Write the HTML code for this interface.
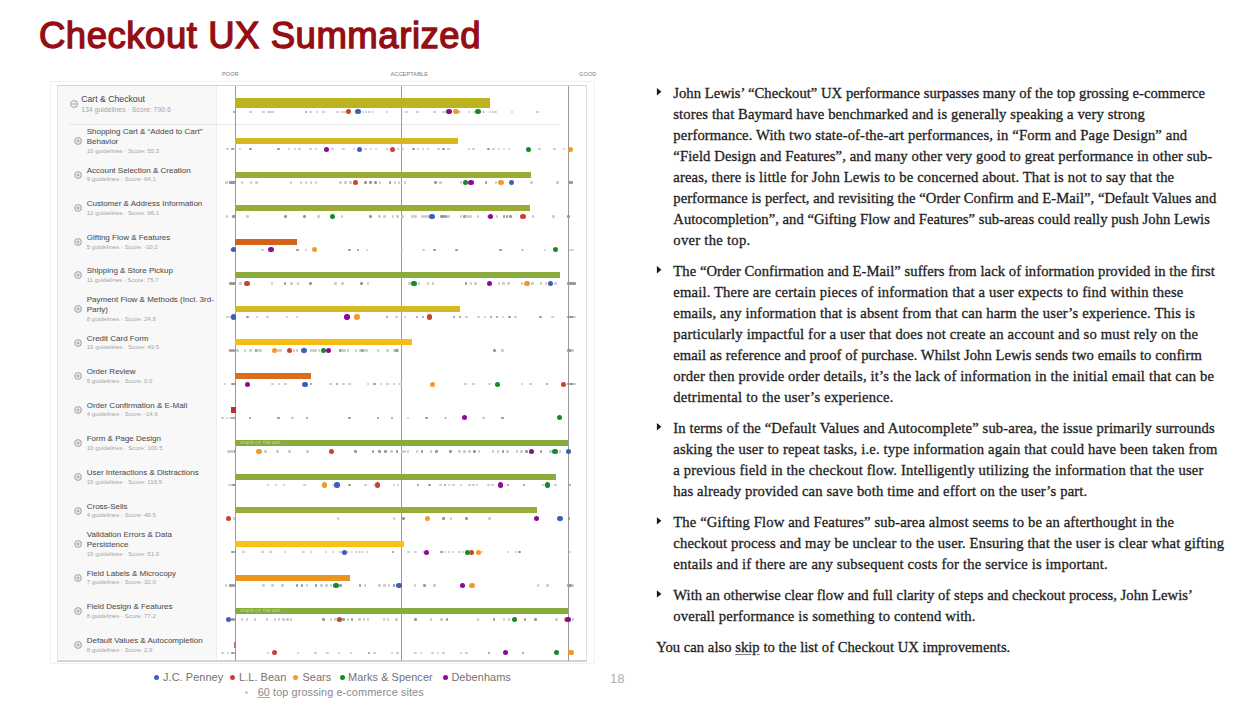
<!DOCTYPE html>
<html><head><meta charset="utf-8"><title>Checkout UX Summarized</title>
<style>
html,body{margin:0;padding:0;background:#fff;}
body{width:1248px;height:714px;overflow:hidden;position:relative;font-family:"Liberation Sans",sans-serif;}
.title{position:absolute;left:38.9px;top:17.8px;font:400 36.5px/1 "Liberation Sans",sans-serif;color:#940e13;-webkit-text-stroke:1.35px #940e13;letter-spacing:0.55px;white-space:nowrap;}
.outer{position:absolute;left:50px;top:81px;width:545px;height:583px;border:1px solid #f1f1f1;box-sizing:border-box;background:#fff;}
.inner{position:absolute;left:57px;top:84.5px;width:530px;height:577px;box-sizing:border-box;border-top:1.5px solid #d7d7d7;border-bottom:2px solid #d3d3d3;border-left:1px solid #e2e2e2;border-right:1.5px solid #dedede;background:#fff;}
.lpanel{position:absolute;left:58px;top:86px;width:158.4px;height:573px;background:#f8f8f8;border-right:1px solid #ececec;}
.vl{position:absolute;top:86px;height:575px;width:1px;background:#9a9a9a;}
.axl{position:absolute;top:70.5px;font-size:5.6px;color:#7c7c7c;letter-spacing:0.1px;}
.sep{position:absolute;left:69px;top:124px;width:491px;height:1px;background:#e6e6e6;}
.bar{position:absolute;}
.sota{position:absolute;left:5px;top:-0.2px;font-size:4.2px;line-height:5px;font-weight:700;color:#b4d08c;letter-spacing:0.1px;white-space:nowrap;}
.cd{position:absolute;width:5.3px;height:5.3px;border-radius:50%;}
.gd{position:absolute;width:2.5px;height:2.5px;border-radius:50%;background:#cacaca;}
.gd.dk{background:#969696;}
.lbl{position:absolute;font-size:8px;line-height:9.8px;color:#4c4c4c;white-space:nowrap;-webkit-text-stroke:0.05px #4c4c4c;}
.lbl .sub{font-size:6.1px;line-height:8.2px;color:#a5a5a5;-webkit-text-stroke:0;}
.lbl.top{font-size:8.7px;}
.lbl.two .sub{margin-top:0.9px;}
.lbl.top .sub{font-size:6.9px;line-height:9.6px;margin-top:0.8px;}
.ic{position:absolute;fill:none;stroke:#a2a2a2;stroke-width:1.1;}
.legend{position:absolute;top:671.3px;font-size:10.9px;line-height:13px;color:#727272;letter-spacing:0.08px;white-space:nowrap;}
.tl u{text-decoration-color:#7a7a7a;text-underline-offset:1.6px;}
.legend u{text-decoration-color:#aaa;text-underline-offset:1.2px;}
.ld{position:absolute;width:5.4px;height:5.4px;border-radius:50%;}
.tl{position:absolute;font:14.65px/17px "Liberation Serif",serif;color:#1e1e1e;-webkit-text-stroke:0.3px #1e1e1e;white-space:nowrap;}
.tri{position:absolute;width:0;height:0;border-top:3.9px solid transparent;border-bottom:3.9px solid transparent;border-left:4.5px solid #1a1a1a;}
</style></head><body>
<div class="title">Checkout UX Summarized</div>
<div class="outer"></div>
<div class="axl" style="left:222px">POOR</div>
<div class="axl" style="left:390.5px">ACCEPTABLE</div>
<div class="axl" style="left:579px">GOOD</div>
<div class="inner"></div>
<div class="lpanel"></div>
<div class="sep"></div>
<div class="vl" style="left:234.8px"></div>
<div class="vl" style="left:401.3px"></div>
<div class="vl" style="left:567.9px"></div>
<div class="bar" style="left:235.2px;top:97.8px;width:255.2px;height:10px;background:#bcb41f"></div>
<i class="gd dk" style="left:232.85px;top:110.55px"></i>
<i class="gd" style="left:249.25px;top:110.55px"></i>
<i class="gd" style="left:262.15px;top:110.55px"></i>
<i class="gd" style="left:267.15px;top:110.55px"></i>
<i class="gd" style="left:269.25px;top:110.55px"></i>
<i class="gd" style="left:271.35px;top:110.55px"></i>
<i class="gd dk" style="left:304.65px;top:110.55px"></i>
<i class="gd" style="left:309.15px;top:110.55px"></i>
<i class="gd" style="left:315.65px;top:110.55px"></i>
<i class="gd" style="left:322.05px;top:110.55px"></i>
<i class="gd" style="left:336.25px;top:110.55px"></i>
<i class="gd" style="left:340.55px;top:110.55px"></i>
<i class="gd" style="left:343.45px;top:110.55px"></i>
<i class="gd" style="left:361.95px;top:110.55px"></i>
<i class="gd" style="left:364.75px;top:110.55px"></i>
<i class="gd" style="left:368.35px;top:110.55px"></i>
<i class="gd" style="left:371.95px;top:110.55px"></i>
<i class="gd" style="left:385.55px;top:110.55px"></i>
<i class="gd" style="left:400.65px;top:110.55px"></i>
<i class="gd" style="left:405.15px;top:110.55px"></i>
<i class="gd" style="left:416.25px;top:110.55px"></i>
<i class="gd" style="left:433.05px;top:110.55px"></i>
<i class="gd" style="left:442.15px;top:110.55px"></i>
<i class="gd" style="left:443.95px;top:110.55px"></i>
<i class="gd" style="left:458.45px;top:110.55px"></i>
<i class="gd" style="left:467.85px;top:110.55px"></i>
<i class="gd" style="left:472.95px;top:110.55px"></i>
<i class="gd" style="left:482.05px;top:110.55px"></i>
<i class="gd" style="left:488.95px;top:110.55px"></i>
<i class="gd" style="left:491.95px;top:110.55px"></i>
<i class="gd" style="left:494.25px;top:110.55px"></i>
<i class="gd" style="left:510.65px;top:110.55px"></i>
<i class="gd" style="left:536.15px;top:110.55px"></i>
<i class="cd" style="left:345.9px;top:109.1px;background:#c4442e"></i>
<i class="cd" style="left:355.4px;top:109.1px;background:#3d5fba"></i>
<i class="cd" style="left:446.4px;top:109.1px;background:#8a0c96"></i>
<i class="cd" style="left:453.4px;top:109.1px;background:#f09a2c"></i>
<i class="cd" style="left:475.4px;top:109.1px;background:#168a24"></i>
<div class="lbl top" style="left:81.2px;top:94.7px"><div>Cart &amp; Checkout</div><div class="sub">134 guidelines · Score: 790.6</div></div>
<svg class="ic" style="left:69.5px;top:100.4px" width="8" height="8" viewBox="0 0 8 8"><circle cx="4" cy="4" r="3.2"/><path d="M2.2 4h3.6"/></svg>
<div class="bar" style="left:235.2px;top:137.9px;width:222.8px;height:6px;background:#d6b81e"></div>
<i class="gd" style="left:226.15px;top:147.90px"></i>
<i class="gd dk" style="left:231.45px;top:147.90px"></i>
<i class="gd" style="left:233.55px;top:147.90px"></i>
<i class="gd" style="left:238.55px;top:147.90px"></i>
<i class="gd dk" style="left:249.25px;top:147.90px"></i>
<i class="gd dk" style="left:277.05px;top:147.90px"></i>
<i class="gd" style="left:287.75px;top:147.90px"></i>
<i class="gd" style="left:293.55px;top:147.90px"></i>
<i class="gd" style="left:298.45px;top:147.90px"></i>
<i class="gd" style="left:309.15px;top:147.90px"></i>
<i class="gd" style="left:314.95px;top:147.90px"></i>
<i class="gd" style="left:331.35px;top:147.90px"></i>
<i class="gd" style="left:342.05px;top:147.90px"></i>
<i class="gd" style="left:352.75px;top:147.90px"></i>
<i class="gd" style="left:364.15px;top:147.90px"></i>
<i class="gd" style="left:369.75px;top:147.90px"></i>
<i class="gd" style="left:374.75px;top:147.90px"></i>
<i class="gd" style="left:385.55px;top:147.90px"></i>
<i class="gd" style="left:396.75px;top:147.90px"></i>
<i class="gd" style="left:401.35px;top:147.90px"></i>
<i class="gd dk" style="left:412.05px;top:147.90px"></i>
<i class="gd" style="left:416.85px;top:147.90px"></i>
<i class="gd" style="left:421.95px;top:147.90px"></i>
<i class="gd" style="left:426.95px;top:147.90px"></i>
<i class="gd" style="left:437.15px;top:147.90px"></i>
<i class="gd dk" style="left:442.15px;top:147.90px"></i>
<i class="gd" style="left:447.35px;top:147.90px"></i>
<i class="gd" style="left:467.55px;top:147.90px"></i>
<i class="gd" style="left:472.15px;top:147.90px"></i>
<i class="gd dk" style="left:487.35px;top:147.90px"></i>
<i class="gd" style="left:492.45px;top:147.90px"></i>
<i class="gd" style="left:497.75px;top:147.90px"></i>
<i class="gd" style="left:502.65px;top:147.90px"></i>
<i class="gd" style="left:507.65px;top:147.90px"></i>
<i class="gd" style="left:538.05px;top:147.90px"></i>
<i class="gd" style="left:553.35px;top:147.90px"></i>
<i class="gd" style="left:562.75px;top:147.90px"></i>
<i class="cd" style="left:324.0px;top:146.5px;background:#8a0c96"></i>
<i class="cd" style="left:356.9px;top:146.5px;background:#3d5fba"></i>
<i class="cd" style="left:389.8px;top:146.5px;background:#c4442e"></i>
<i class="cd" style="left:526.1px;top:146.5px;background:#168a24"></i>
<i class="cd" style="left:568.1px;top:146.5px;background:#f09a2c"></i>
<div class="lbl two" style="left:86.7px;top:126.8px"><div>Shopping Cart &amp; “Added to Cart”</div><div>Behavior</div><div class="sub">10 guidelines · Score: 55.3</div></div>
<svg class="ic" style="left:74.4px;top:136.8px" width="8" height="8" viewBox="0 0 8 8"><circle cx="4" cy="4" r="3.2"/><path d="M2.3 4h3.4M4 2.3v3.4"/></svg>
<div class="bar" style="left:235.2px;top:171.5px;width:296.0px;height:6px;background:#9cab34"></div>
<i class="gd" style="left:225.05px;top:181.48px"></i>
<i class="gd dk" style="left:228.55px;top:181.48px"></i>
<i class="gd dk" style="left:230.45px;top:181.48px"></i>
<i class="gd dk" style="left:232.15px;top:181.48px"></i>
<i class="gd dk" style="left:233.85px;top:181.48px"></i>
<i class="gd" style="left:240.75px;top:181.48px"></i>
<i class="gd" style="left:249.95px;top:181.48px"></i>
<i class="gd" style="left:255.45px;top:181.48px"></i>
<i class="gd" style="left:289.95px;top:181.48px"></i>
<i class="gd" style="left:299.95px;top:181.48px"></i>
<i class="gd" style="left:304.95px;top:181.48px"></i>
<i class="gd" style="left:309.95px;top:181.48px"></i>
<i class="gd" style="left:314.65px;top:181.48px"></i>
<i class="gd" style="left:339.15px;top:181.48px"></i>
<i class="gd" style="left:344.25px;top:181.48px"></i>
<i class="gd" style="left:349.15px;top:181.48px"></i>
<i class="gd dk" style="left:364.15px;top:181.48px"></i>
<i class="gd dk" style="left:369.15px;top:181.48px"></i>
<i class="gd dk" style="left:374.15px;top:181.48px"></i>
<i class="gd" style="left:378.85px;top:181.48px"></i>
<i class="gd dk" style="left:388.75px;top:181.48px"></i>
<i class="gd" style="left:393.65px;top:181.48px"></i>
<i class="gd" style="left:397.65px;top:181.48px"></i>
<i class="gd" style="left:403.65px;top:181.48px"></i>
<i class="gd dk" style="left:434.05px;top:181.48px"></i>
<i class="gd" style="left:439.15px;top:181.48px"></i>
<i class="gd" style="left:459.55px;top:181.48px"></i>
<i class="gd dk" style="left:484.75px;top:181.48px"></i>
<i class="gd" style="left:494.95px;top:181.48px"></i>
<i class="gd" style="left:530.45px;top:181.48px"></i>
<i class="gd" style="left:556.35px;top:181.48px"></i>
<i class="gd dk" style="left:568.55px;top:181.48px"></i>
<i class="gd dk" style="left:570.35px;top:181.48px"></i>
<i class="cd" style="left:352.9px;top:180.1px;background:#c4442e"></i>
<i class="cd" style="left:462.8px;top:180.1px;background:#168a24"></i>
<i class="cd" style="left:468.4px;top:180.1px;background:#8a0c96"></i>
<i class="cd" style="left:498.4px;top:180.1px;background:#f09a2c"></i>
<i class="cd" style="left:508.8px;top:180.1px;background:#3d5fba"></i>
<div class="lbl" style="left:86.7px;top:165.6px"><div>Account Selection &amp; Creation</div><div class="sub">9 guidelines · Score: 64.1</div></div>
<svg class="ic" style="left:74.4px;top:170.6px" width="8" height="8" viewBox="0 0 8 8"><circle cx="4" cy="4" r="3.2"/><path d="M2.3 4h3.4M4 2.3v3.4"/></svg>
<div class="bar" style="left:235.2px;top:205.1px;width:294.5px;height:6px;background:#9cab34"></div>
<i class="gd" style="left:225.75px;top:215.06px"></i>
<i class="gd dk" style="left:232.15px;top:215.06px"></i>
<i class="gd dk" style="left:233.85px;top:215.06px"></i>
<i class="gd" style="left:246.45px;top:215.06px"></i>
<i class="gd dk" style="left:284.25px;top:215.06px"></i>
<i class="gd dk" style="left:303.25px;top:215.06px"></i>
<i class="gd" style="left:317.05px;top:215.06px"></i>
<i class="gd" style="left:340.85px;top:215.06px"></i>
<i class="gd dk" style="left:369.15px;top:215.06px"></i>
<i class="gd" style="left:378.35px;top:215.06px"></i>
<i class="gd" style="left:383.35px;top:215.06px"></i>
<i class="gd" style="left:391.95px;top:215.06px"></i>
<i class="gd" style="left:396.25px;top:215.06px"></i>
<i class="gd" style="left:401.05px;top:215.06px"></i>
<i class="gd" style="left:411.25px;top:215.06px"></i>
<i class="gd" style="left:414.35px;top:215.06px"></i>
<i class="gd" style="left:421.15px;top:215.06px"></i>
<i class="gd" style="left:424.25px;top:215.06px"></i>
<i class="gd" style="left:427.25px;top:215.06px"></i>
<i class="gd dk" style="left:440.15px;top:215.06px"></i>
<i class="gd dk" style="left:442.45px;top:215.06px"></i>
<i class="gd dk" style="left:444.75px;top:215.06px"></i>
<i class="gd" style="left:447.05px;top:215.06px"></i>
<i class="gd" style="left:459.95px;top:215.06px"></i>
<i class="gd dk" style="left:463.05px;top:215.06px"></i>
<i class="gd" style="left:465.35px;top:215.06px"></i>
<i class="gd" style="left:467.55px;top:215.06px"></i>
<i class="gd" style="left:469.85px;top:215.06px"></i>
<i class="gd" style="left:476.75px;top:215.06px"></i>
<i class="gd" style="left:486.65px;top:215.06px"></i>
<i class="gd" style="left:495.75px;top:215.06px"></i>
<i class="gd dk" style="left:502.65px;top:215.06px"></i>
<i class="gd dk" style="left:505.65px;top:215.06px"></i>
<i class="gd dk" style="left:509.45px;top:215.06px"></i>
<i class="gd" style="left:531.95px;top:215.06px"></i>
<i class="gd" style="left:552.05px;top:215.06px"></i>
<i class="gd dk" style="left:567.35px;top:215.06px"></i>
<i class="cd" style="left:329.8px;top:213.7px;background:#168a24"></i>
<i class="cd" style="left:429.4px;top:213.7px;background:#3d5fba"></i>
<i class="cd" style="left:487.8px;top:213.7px;background:#8a0c96"></i>
<i class="cd" style="left:520.4px;top:213.7px;background:#c4442e"></i>
<div class="lbl" style="left:86.7px;top:199.2px"><div>Customer &amp; Address Information</div><div class="sub">12 guidelines · Score: 96.1</div></div>
<svg class="ic" style="left:74.4px;top:204.2px" width="8" height="8" viewBox="0 0 8 8"><circle cx="4" cy="4" r="3.2"/><path d="M2.3 4h3.4M4 2.3v3.4"/></svg>
<div class="bar" style="left:235.2px;top:238.7px;width:62.1px;height:6px;background:#d4621c"></div>
<i class="gd" style="left:230.05px;top:248.65px"></i>
<i class="gd" style="left:261.45px;top:248.65px"></i>
<i class="gd dk" style="left:296.05px;top:248.65px"></i>
<i class="gd" style="left:304.95px;top:248.65px"></i>
<i class="gd dk" style="left:348.15px;top:248.65px"></i>
<i class="gd dk" style="left:356.95px;top:248.65px"></i>
<i class="gd" style="left:365.95px;top:248.65px"></i>
<i class="gd" style="left:400.65px;top:248.65px"></i>
<i class="gd" style="left:422.35px;top:248.65px"></i>
<i class="gd dk" style="left:433.35px;top:248.65px"></i>
<i class="gd dk" style="left:455.45px;top:248.65px"></i>
<i class="gd dk" style="left:499.25px;top:248.65px"></i>
<i class="gd" style="left:521.35px;top:248.65px"></i>
<i class="gd" style="left:543.75px;top:248.65px"></i>
<i class="gd" style="left:568.85px;top:248.65px"></i>
<i class="gd" style="left:571.15px;top:248.65px"></i>
<i class="cd" style="left:231.0px;top:247.2px;background:#3d5fba"></i>
<i class="cd" style="left:268.4px;top:247.2px;background:#8a0c96"></i>
<i class="cd" style="left:312.1px;top:247.2px;background:#f09a2c"></i>
<i class="cd" style="left:552.6px;top:247.2px;background:#168a24"></i>
<div class="lbl" style="left:86.7px;top:232.8px"><div>Gifting Flow &amp; Features</div><div class="sub">5 guidelines · Score: -10.2</div></div>
<svg class="ic" style="left:74.4px;top:237.8px" width="8" height="8" viewBox="0 0 8 8"><circle cx="4" cy="4" r="3.2"/><path d="M2.3 4h3.4M4 2.3v3.4"/></svg>
<div class="bar" style="left:235.2px;top:272.3px;width:324.9px;height:6px;background:#8aab3e"></div>
<i class="gd dk" style="left:228.55px;top:282.23px"></i>
<i class="gd dk" style="left:230.45px;top:282.23px"></i>
<i class="gd dk" style="left:232.15px;top:282.23px"></i>
<i class="gd dk" style="left:233.85px;top:282.23px"></i>
<i class="gd" style="left:239.25px;top:282.23px"></i>
<i class="gd" style="left:270.65px;top:282.23px"></i>
<i class="gd dk" style="left:283.95px;top:282.23px"></i>
<i class="gd" style="left:290.25px;top:282.23px"></i>
<i class="gd" style="left:296.75px;top:282.23px"></i>
<i class="gd dk" style="left:309.45px;top:282.23px"></i>
<i class="gd" style="left:334.45px;top:282.23px"></i>
<i class="gd" style="left:341.25px;top:282.23px"></i>
<i class="gd dk" style="left:360.25px;top:282.23px"></i>
<i class="gd" style="left:366.55px;top:282.23px"></i>
<i class="gd" style="left:408.25px;top:282.23px"></i>
<i class="gd" style="left:417.85px;top:282.23px"></i>
<i class="gd" style="left:426.95px;top:282.23px"></i>
<i class="gd" style="left:431.85px;top:282.23px"></i>
<i class="gd dk" style="left:464.55px;top:282.23px"></i>
<i class="gd" style="left:469.55px;top:282.23px"></i>
<i class="gd" style="left:474.45px;top:282.23px"></i>
<i class="gd" style="left:497.75px;top:282.23px"></i>
<i class="gd" style="left:502.35px;top:282.23px"></i>
<i class="gd" style="left:507.15px;top:282.23px"></i>
<i class="gd" style="left:520.85px;top:282.23px"></i>
<i class="gd" style="left:531.05px;top:282.23px"></i>
<i class="gd" style="left:539.95px;top:282.23px"></i>
<i class="gd" style="left:544.95px;top:282.23px"></i>
<i class="gd" style="left:554.35px;top:282.23px"></i>
<i class="gd dk" style="left:567.35px;top:282.23px"></i>
<i class="gd dk" style="left:569.35px;top:282.23px"></i>
<i class="gd dk" style="left:571.35px;top:282.23px"></i>
<i class="gd dk" style="left:573.45px;top:282.23px"></i>
<i class="cd" style="left:244.3px;top:280.8px;background:#c4442e"></i>
<i class="cd" style="left:411.4px;top:280.8px;background:#168a24"></i>
<i class="cd" style="left:486.6px;top:280.8px;background:#8a0c96"></i>
<i class="cd" style="left:524.4px;top:280.8px;background:#f09a2c"></i>
<i class="cd" style="left:548.1px;top:280.8px;background:#3d5fba"></i>
<div class="lbl" style="left:86.7px;top:266.4px"><div>Shipping &amp; Store Pickup</div><div class="sub">11 guidelines · Score: 75.7</div></div>
<svg class="ic" style="left:74.4px;top:271.4px" width="8" height="8" viewBox="0 0 8 8"><circle cx="4" cy="4" r="3.2"/><path d="M2.3 4h3.4M4 2.3v3.4"/></svg>
<div class="bar" style="left:235.2px;top:305.9px;width:225.1px;height:6px;background:#d6b91e"></div>
<i class="gd" style="left:226.45px;top:315.81px"></i>
<i class="gd" style="left:229.35px;top:315.81px"></i>
<i class="gd dk" style="left:246.15px;top:315.81px"></i>
<i class="gd" style="left:255.75px;top:315.81px"></i>
<i class="gd" style="left:266.15px;top:315.81px"></i>
<i class="gd" style="left:285.65px;top:315.81px"></i>
<i class="gd" style="left:295.65px;top:315.81px"></i>
<i class="gd dk" style="left:385.55px;top:315.81px"></i>
<i class="gd" style="left:395.45px;top:315.81px"></i>
<i class="gd" style="left:403.65px;top:315.81px"></i>
<i class="gd dk" style="left:415.85px;top:315.81px"></i>
<i class="gd dk" style="left:421.95px;top:315.81px"></i>
<i class="gd dk" style="left:452.85px;top:315.81px"></i>
<i class="gd dk" style="left:458.95px;top:315.81px"></i>
<i class="gd" style="left:465.05px;top:315.81px"></i>
<i class="gd" style="left:477.15px;top:315.81px"></i>
<i class="gd" style="left:483.55px;top:315.81px"></i>
<i class="gd dk" style="left:489.65px;top:315.81px"></i>
<i class="gd dk" style="left:495.75px;top:315.81px"></i>
<i class="gd" style="left:501.85px;top:315.81px"></i>
<i class="gd dk" style="left:508.25px;top:315.81px"></i>
<i class="gd" style="left:514.35px;top:315.81px"></i>
<i class="gd dk" style="left:539.15px;top:315.81px"></i>
<i class="gd" style="left:551.35px;top:315.81px"></i>
<i class="gd dk" style="left:567.35px;top:315.81px"></i>
<i class="gd dk" style="left:569.35px;top:315.81px"></i>
<i class="gd dk" style="left:571.35px;top:315.81px"></i>
<i class="gd" style="left:573.45px;top:315.81px"></i>
<i class="cd" style="left:231.0px;top:314.4px;background:#3d5fba"></i>
<i class="cd" style="left:344.4px;top:314.4px;background:#8a0c96"></i>
<i class="cd" style="left:354.4px;top:314.4px;background:#f09a2c"></i>
<i class="cd" style="left:426.9px;top:314.4px;background:#c4442e"></i>
<div class="lbl two" style="left:86.7px;top:294.8px"><div>Payment Flow &amp; Methods (Incl. 3rd-</div><div>Party)</div><div class="sub">8 guidelines · Score: 24.8</div></div>
<svg class="ic" style="left:74.4px;top:304.8px" width="8" height="8" viewBox="0 0 8 8"><circle cx="4" cy="4" r="3.2"/><path d="M2.3 4h3.4M4 2.3v3.4"/></svg>
<div class="bar" style="left:235.2px;top:339.4px;width:177.2px;height:6px;background:#f5bc14"></div>
<i class="gd dk" style="left:228.55px;top:349.39px"></i>
<i class="gd dk" style="left:230.75px;top:349.39px"></i>
<i class="gd dk" style="left:232.85px;top:349.39px"></i>
<i class="gd" style="left:236.45px;top:349.39px"></i>
<i class="gd" style="left:243.55px;top:349.39px"></i>
<i class="gd" style="left:249.25px;top:349.39px"></i>
<i class="gd dk" style="left:254.95px;top:349.39px"></i>
<i class="gd" style="left:257.15px;top:349.39px"></i>
<i class="gd" style="left:259.25px;top:349.39px"></i>
<i class="gd" style="left:277.05px;top:349.39px"></i>
<i class="gd" style="left:279.25px;top:349.39px"></i>
<i class="gd" style="left:292.75px;top:349.39px"></i>
<i class="gd" style="left:295.65px;top:349.39px"></i>
<i class="gd" style="left:309.95px;top:349.39px"></i>
<i class="gd" style="left:312.05px;top:349.39px"></i>
<i class="gd" style="left:314.15px;top:349.39px"></i>
<i class="gd" style="left:317.75px;top:349.39px"></i>
<i class="gd dk" style="left:339.15px;top:349.39px"></i>
<i class="gd" style="left:341.25px;top:349.39px"></i>
<i class="gd" style="left:343.45px;top:349.39px"></i>
<i class="gd" style="left:346.95px;top:349.39px"></i>
<i class="gd" style="left:354.85px;top:349.39px"></i>
<i class="gd" style="left:359.15px;top:349.39px"></i>
<i class="gd dk" style="left:361.25px;top:349.39px"></i>
<i class="gd" style="left:363.45px;top:349.39px"></i>
<i class="gd" style="left:365.55px;top:349.39px"></i>
<i class="gd" style="left:376.95px;top:349.39px"></i>
<i class="gd" style="left:386.25px;top:349.39px"></i>
<i class="gd" style="left:393.35px;top:349.39px"></i>
<i class="gd" style="left:396.25px;top:349.39px"></i>
<i class="gd dk" style="left:395.25px;top:349.39px"></i>
<i class="gd dk" style="left:493.45px;top:349.39px"></i>
<i class="gd" style="left:501.05px;top:349.39px"></i>
<i class="gd dk" style="left:567.35px;top:349.39px"></i>
<i class="gd dk" style="left:569.35px;top:349.39px"></i>
<i class="gd" style="left:571.15px;top:349.39px"></i>
<i class="cd" style="left:271.9px;top:348.0px;background:#f09a2c"></i>
<i class="cd" style="left:286.8px;top:348.0px;background:#c4442e"></i>
<i class="cd" style="left:301.4px;top:348.0px;background:#3d5fba"></i>
<i class="cd" style="left:321.2px;top:348.0px;background:#168a24"></i>
<i class="cd" style="left:326.1px;top:348.0px;background:#8a0c96"></i>
<div class="lbl" style="left:86.7px;top:333.5px"><div>Credit Card Form</div><div class="sub">10 guidelines · Score: 49.5</div></div>
<svg class="ic" style="left:74.4px;top:338.5px" width="8" height="8" viewBox="0 0 8 8"><circle cx="4" cy="4" r="3.2"/><path d="M2.3 4h3.4M4 2.3v3.4"/></svg>
<div class="bar" style="left:235.2px;top:373.0px;width:75.8px;height:6px;background:#d96d1b"></div>
<i class="gd" style="left:223.65px;top:382.98px"></i>
<i class="gd dk" style="left:231.45px;top:382.98px"></i>
<i class="gd dk" style="left:233.35px;top:382.98px"></i>
<i class="gd" style="left:271.35px;top:382.98px"></i>
<i class="gd" style="left:277.85px;top:382.98px"></i>
<i class="gd" style="left:284.25px;top:382.98px"></i>
<i class="gd dk" style="left:309.95px;top:382.98px"></i>
<i class="gd" style="left:329.15px;top:382.98px"></i>
<i class="gd dk" style="left:335.55px;top:382.98px"></i>
<i class="gd" style="left:342.05px;top:382.98px"></i>
<i class="gd" style="left:348.45px;top:382.98px"></i>
<i class="gd" style="left:366.95px;top:382.98px"></i>
<i class="gd dk" style="left:373.35px;top:382.98px"></i>
<i class="gd" style="left:379.85px;top:382.98px"></i>
<i class="gd" style="left:386.25px;top:382.98px"></i>
<i class="gd" style="left:392.65px;top:382.98px"></i>
<i class="gd" style="left:397.65px;top:382.98px"></i>
<i class="gd" style="left:399.85px;top:382.98px"></i>
<i class="gd" style="left:464.05px;top:382.98px"></i>
<i class="gd" style="left:472.15px;top:382.98px"></i>
<i class="gd" style="left:488.45px;top:382.98px"></i>
<i class="gd" style="left:520.85px;top:382.98px"></i>
<i class="gd" style="left:529.25px;top:382.98px"></i>
<i class="gd dk" style="left:545.55px;top:382.98px"></i>
<i class="gd dk" style="left:567.35px;top:382.98px"></i>
<i class="gd dk" style="left:569.35px;top:382.98px"></i>
<i class="gd dk" style="left:571.35px;top:382.98px"></i>
<i class="gd" style="left:573.45px;top:382.98px"></i>
<i class="cd" style="left:244.8px;top:381.6px;background:#8a0c96"></i>
<i class="cd" style="left:302.4px;top:381.6px;background:#3d5fba"></i>
<i class="cd" style="left:429.9px;top:381.6px;background:#f09a2c"></i>
<i class="cd" style="left:495.1px;top:381.6px;background:#168a24"></i>
<i class="cd" style="left:560.6px;top:381.6px;background:#c4442e"></i>
<div class="lbl" style="left:86.7px;top:367.1px"><div>Order Review</div><div class="sub">5 guidelines · Score: 0.0</div></div>
<svg class="ic" style="left:74.4px;top:372.1px" width="8" height="8" viewBox="0 0 8 8"><circle cx="4" cy="4" r="3.2"/><path d="M2.3 4h3.4M4 2.3v3.4"/></svg>
<div class="bar" style="left:230.8px;top:406.6px;width:4.8px;height:6px;background:#c22a2e"></div>
<i class="gd" style="left:221.45px;top:416.56px"></i>
<i class="gd" style="left:225.75px;top:416.56px"></i>
<i class="gd" style="left:228.55px;top:416.56px"></i>
<i class="gd dk" style="left:230.75px;top:416.56px"></i>
<i class="gd dk" style="left:232.85px;top:416.56px"></i>
<i class="gd dk" style="left:248.55px;top:416.56px"></i>
<i class="gd dk" style="left:277.05px;top:416.56px"></i>
<i class="gd" style="left:291.35px;top:416.56px"></i>
<i class="gd dk" style="left:305.65px;top:416.56px"></i>
<i class="gd dk" style="left:348.45px;top:416.56px"></i>
<i class="gd dk" style="left:376.65px;top:416.56px"></i>
<i class="gd dk" style="left:390.95px;top:416.56px"></i>
<i class="gd" style="left:406.65px;top:416.56px"></i>
<i class="gd dk" style="left:425.45px;top:416.56px"></i>
<i class="gd" style="left:444.45px;top:416.56px"></i>
<i class="gd" style="left:482.05px;top:416.56px"></i>
<i class="gd dk" style="left:501.05px;top:416.56px"></i>
<i class="cd" style="left:461.6px;top:415.2px;background:#8a0c96"></i>
<i class="cd" style="left:556.6px;top:415.2px;background:#168a24"></i>
<div class="lbl" style="left:86.7px;top:400.7px"><div>Order Confirmation &amp; E-Mail</div><div class="sub">4 guidelines · Score: -14.6</div></div>
<svg class="ic" style="left:74.4px;top:405.7px" width="8" height="8" viewBox="0 0 8 8"><circle cx="4" cy="4" r="3.2"/><path d="M2.3 4h3.4M4 2.3v3.4"/></svg>
<div class="bar" style="left:235.2px;top:440.2px;width:333.2px;height:6px;background:#88ab3e"><span class="sota">STATE OF THE ART</span></div>
<i class="gd" style="left:227.15px;top:450.14px"></i>
<i class="gd" style="left:229.35px;top:450.14px"></i>
<i class="gd" style="left:231.45px;top:450.14px"></i>
<i class="gd dk" style="left:233.55px;top:450.14px"></i>
<i class="gd" style="left:264.25px;top:450.14px"></i>
<i class="gd" style="left:276.05px;top:450.14px"></i>
<i class="gd" style="left:288.05px;top:450.14px"></i>
<i class="gd" style="left:306.05px;top:450.14px"></i>
<i class="gd dk" style="left:354.15px;top:450.14px"></i>
<i class="gd dk" style="left:371.95px;top:450.14px"></i>
<i class="gd dk" style="left:378.05px;top:450.14px"></i>
<i class="gd dk" style="left:384.05px;top:450.14px"></i>
<i class="gd" style="left:390.25px;top:450.14px"></i>
<i class="gd dk" style="left:395.95px;top:450.14px"></i>
<i class="gd" style="left:401.35px;top:450.14px"></i>
<i class="gd" style="left:403.65px;top:450.14px"></i>
<i class="gd" style="left:406.65px;top:450.14px"></i>
<i class="gd" style="left:415.85px;top:450.14px"></i>
<i class="gd dk" style="left:420.85px;top:450.14px"></i>
<i class="gd" style="left:429.95px;top:450.14px"></i>
<i class="gd dk" style="left:435.15px;top:450.14px"></i>
<i class="gd dk" style="left:449.35px;top:450.14px"></i>
<i class="gd" style="left:458.45px;top:450.14px"></i>
<i class="gd" style="left:463.45px;top:450.14px"></i>
<i class="gd" style="left:468.35px;top:450.14px"></i>
<i class="gd dk" style="left:473.25px;top:450.14px"></i>
<i class="gd" style="left:477.75px;top:450.14px"></i>
<i class="gd" style="left:491.95px;top:450.14px"></i>
<i class="gd" style="left:496.95px;top:450.14px"></i>
<i class="gd dk" style="left:501.55px;top:450.14px"></i>
<i class="gd" style="left:506.45px;top:450.14px"></i>
<i class="gd" style="left:515.55px;top:450.14px"></i>
<i class="gd" style="left:520.45px;top:450.14px"></i>
<i class="gd dk" style="left:525.45px;top:450.14px"></i>
<i class="gd dk" style="left:539.65px;top:450.14px"></i>
<i class="gd" style="left:549.05px;top:450.14px"></i>
<i class="gd" style="left:558.95px;top:450.14px"></i>
<i class="cd" style="left:256.4px;top:448.7px;background:#f09a2c"></i>
<i class="cd" style="left:328.8px;top:448.7px;background:#c4442e"></i>
<i class="cd" style="left:528.6px;top:448.7px;background:#8a0c96"></i>
<i class="cd" style="left:552.4px;top:448.7px;background:#168a24"></i>
<i class="cd" style="left:565.8px;top:448.7px;background:#3d5fba"></i>
<div class="lbl" style="left:86.7px;top:434.3px"><div>Form &amp; Page Design</div><div class="sub">10 guidelines · Score: 100.5</div></div>
<svg class="ic" style="left:74.4px;top:439.3px" width="8" height="8" viewBox="0 0 8 8"><circle cx="4" cy="4" r="3.2"/><path d="M2.3 4h3.4M4 2.3v3.4"/></svg>
<div class="bar" style="left:235.2px;top:473.8px;width:320.4px;height:6px;background:#8aab3e"></div>
<i class="gd" style="left:227.85px;top:483.73px"></i>
<i class="gd" style="left:230.05px;top:483.73px"></i>
<i class="gd dk" style="left:232.15px;top:483.73px"></i>
<i class="gd dk" style="left:233.85px;top:483.73px"></i>
<i class="gd" style="left:266.65px;top:483.73px"></i>
<i class="gd" style="left:274.65px;top:483.73px"></i>
<i class="gd" style="left:282.85px;top:483.73px"></i>
<i class="gd" style="left:303.45px;top:483.73px"></i>
<i class="gd" style="left:331.75px;top:483.73px"></i>
<i class="gd dk" style="left:348.15px;top:483.73px"></i>
<i class="gd" style="left:364.15px;top:483.73px"></i>
<i class="gd" style="left:372.65px;top:483.73px"></i>
<i class="gd" style="left:392.65px;top:483.73px"></i>
<i class="gd" style="left:396.95px;top:483.73px"></i>
<i class="gd dk" style="left:416.55px;top:483.73px"></i>
<i class="gd dk" style="left:428.45px;top:483.73px"></i>
<i class="gd" style="left:439.45px;top:483.73px"></i>
<i class="gd dk" style="left:443.95px;top:483.73px"></i>
<i class="gd" style="left:447.75px;top:483.73px"></i>
<i class="gd" style="left:452.35px;top:483.73px"></i>
<i class="gd" style="left:459.55px;top:483.73px"></i>
<i class="gd" style="left:468.05px;top:483.73px"></i>
<i class="gd" style="left:472.15px;top:483.73px"></i>
<i class="gd" style="left:475.95px;top:483.73px"></i>
<i class="gd" style="left:487.35px;top:483.73px"></i>
<i class="gd" style="left:491.15px;top:483.73px"></i>
<i class="gd dk" style="left:506.85px;top:483.73px"></i>
<i class="gd dk" style="left:522.85px;top:483.73px"></i>
<i class="gd" style="left:542.15px;top:483.73px"></i>
<i class="gd" style="left:554.35px;top:483.73px"></i>
<i class="gd dk" style="left:568.55px;top:483.73px"></i>
<i class="cd" style="left:322.1px;top:482.3px;background:#f09a2c"></i>
<i class="cd" style="left:334.4px;top:482.3px;background:#3d5fba"></i>
<i class="cd" style="left:374.8px;top:482.3px;background:#c4442e"></i>
<i class="cd" style="left:497.8px;top:482.3px;background:#8a0c96"></i>
<i class="cd" style="left:545.0px;top:482.3px;background:#168a24"></i>
<div class="lbl" style="left:86.7px;top:467.9px"><div>User Interactions &amp; Distractions</div><div class="sub">10 guidelines · Score: 116.5</div></div>
<svg class="ic" style="left:74.4px;top:472.9px" width="8" height="8" viewBox="0 0 8 8"><circle cx="4" cy="4" r="3.2"/><path d="M2.3 4h3.4M4 2.3v3.4"/></svg>
<div class="bar" style="left:235.2px;top:507.4px;width:301.5px;height:6px;background:#97ad3a"></div>
<i class="gd" style="left:232.85px;top:517.31px"></i>
<i class="gd" style="left:336.55px;top:517.31px"></i>
<i class="gd" style="left:392.65px;top:517.31px"></i>
<i class="gd dk" style="left:402.15px;top:517.31px"></i>
<i class="gd dk" style="left:442.15px;top:517.31px"></i>
<i class="gd" style="left:449.75px;top:517.31px"></i>
<i class="gd dk" style="left:465.35px;top:517.31px"></i>
<i class="gd" style="left:488.45px;top:517.31px"></i>
<i class="gd dk" style="left:567.75px;top:517.31px"></i>
<i class="cd" style="left:225.5px;top:515.9px;background:#c4442e"></i>
<i class="cd" style="left:425.1px;top:515.9px;background:#f09a2c"></i>
<i class="cd" style="left:534.1px;top:515.9px;background:#8a0c96"></i>
<i class="cd" style="left:557.4px;top:515.9px;background:#3d5fba"></i>
<div class="lbl" style="left:86.7px;top:501.5px"><div>Cross-Sells</div><div class="sub">4 guidelines · Score: 49.5</div></div>
<svg class="ic" style="left:74.4px;top:506.5px" width="8" height="8" viewBox="0 0 8 8"><circle cx="4" cy="4" r="3.2"/><path d="M2.3 4h3.4M4 2.3v3.4"/></svg>
<div class="bar" style="left:235.2px;top:540.9px;width:169.0px;height:6px;background:#fac313"></div>
<i class="gd dk" style="left:231.45px;top:550.89px"></i>
<i class="gd dk" style="left:233.55px;top:550.89px"></i>
<i class="gd" style="left:242.15px;top:550.89px"></i>
<i class="gd" style="left:261.45px;top:550.89px"></i>
<i class="gd" style="left:269.25px;top:550.89px"></i>
<i class="gd" style="left:283.55px;top:550.89px"></i>
<i class="gd" style="left:302.05px;top:550.89px"></i>
<i class="gd" style="left:309.95px;top:550.89px"></i>
<i class="gd" style="left:324.85px;top:550.89px"></i>
<i class="gd" style="left:331.75px;top:550.89px"></i>
<i class="gd" style="left:339.15px;top:550.89px"></i>
<i class="gd" style="left:341.25px;top:550.89px"></i>
<i class="gd" style="left:346.25px;top:550.89px"></i>
<i class="gd" style="left:350.55px;top:550.89px"></i>
<i class="gd" style="left:354.85px;top:550.89px"></i>
<i class="gd" style="left:358.45px;top:550.89px"></i>
<i class="gd" style="left:361.95px;top:550.89px"></i>
<i class="gd" style="left:365.55px;top:550.89px"></i>
<i class="gd dk" style="left:391.95px;top:550.89px"></i>
<i class="gd" style="left:407.45px;top:550.89px"></i>
<i class="gd" style="left:414.35px;top:550.89px"></i>
<i class="gd" style="left:421.95px;top:550.89px"></i>
<i class="gd dk" style="left:440.15px;top:550.89px"></i>
<i class="gd" style="left:443.95px;top:550.89px"></i>
<i class="gd" style="left:447.75px;top:550.89px"></i>
<i class="gd" style="left:451.65px;top:550.89px"></i>
<i class="gd" style="left:458.45px;top:550.89px"></i>
<i class="gd" style="left:461.55px;top:550.89px"></i>
<i class="gd" style="left:480.85px;top:550.89px"></i>
<i class="gd" style="left:506.75px;top:550.89px"></i>
<i class="gd" style="left:514.75px;top:550.89px"></i>
<i class="gd dk" style="left:518.25px;top:550.89px"></i>
<i class="gd" style="left:568.55px;top:550.89px"></i>
<i class="cd" style="left:342.2px;top:549.5px;background:#3d5fba"></i>
<i class="cd" style="left:424.2px;top:549.5px;background:#8a0c96"></i>
<i class="cd" style="left:464.7px;top:549.5px;background:#168a24"></i>
<i class="cd" style="left:468.9px;top:549.5px;background:#c4442e"></i>
<i class="cd" style="left:476.2px;top:549.5px;background:#f09a2c"></i>
<div class="lbl two" style="left:86.7px;top:529.8px"><div>Validation Errors &amp; Data</div><div>Persistence</div><div class="sub">10 guidelines · Score: 51.0</div></div>
<svg class="ic" style="left:74.4px;top:539.8px" width="8" height="8" viewBox="0 0 8 8"><circle cx="4" cy="4" r="3.2"/><path d="M2.3 4h3.4M4 2.3v3.4"/></svg>
<div class="bar" style="left:235.2px;top:574.5px;width:115.1px;height:6px;background:#e8961f"></div>
<i class="gd" style="left:224.75px;top:584.47px"></i>
<i class="gd dk" style="left:229.35px;top:584.47px"></i>
<i class="gd dk" style="left:231.45px;top:584.47px"></i>
<i class="gd dk" style="left:233.55px;top:584.47px"></i>
<i class="gd" style="left:262.15px;top:584.47px"></i>
<i class="gd" style="left:271.35px;top:584.47px"></i>
<i class="gd" style="left:281.35px;top:584.47px"></i>
<i class="gd dk" style="left:295.65px;top:584.47px"></i>
<i class="gd dk" style="left:300.65px;top:584.47px"></i>
<i class="gd" style="left:305.65px;top:584.47px"></i>
<i class="gd dk" style="left:314.95px;top:584.47px"></i>
<i class="gd" style="left:320.35px;top:584.47px"></i>
<i class="gd" style="left:325.35px;top:584.47px"></i>
<i class="gd" style="left:329.85px;top:584.47px"></i>
<i class="gd dk" style="left:339.45px;top:584.47px"></i>
<i class="gd dk" style="left:358.85px;top:584.47px"></i>
<i class="gd" style="left:363.85px;top:584.47px"></i>
<i class="gd" style="left:378.05px;top:584.47px"></i>
<i class="gd" style="left:383.05px;top:584.47px"></i>
<i class="gd" style="left:387.95px;top:584.47px"></i>
<i class="gd dk" style="left:392.65px;top:584.47px"></i>
<i class="gd" style="left:413.55px;top:584.47px"></i>
<i class="gd dk" style="left:423.45px;top:584.47px"></i>
<i class="gd" style="left:433.05px;top:584.47px"></i>
<i class="gd" style="left:536.85px;top:584.47px"></i>
<i class="gd" style="left:546.45px;top:584.47px"></i>
<i class="gd dk" style="left:567.35px;top:584.47px"></i>
<i class="gd dk" style="left:569.35px;top:584.47px"></i>
<i class="gd" style="left:571.85px;top:584.47px"></i>
<i class="cd" style="left:333.4px;top:583.1px;background:#168a24"></i>
<i class="cd" style="left:396.4px;top:583.1px;background:#3d5fba"></i>
<i class="cd" style="left:459.8px;top:583.1px;background:#8a0c96"></i>
<i class="cd" style="left:469.4px;top:583.1px;background:#f09a2c"></i>
<div class="lbl" style="left:86.7px;top:568.6px"><div>Field Labels &amp; Microcopy</div><div class="sub">7 guidelines · Score: 32.0</div></div>
<svg class="ic" style="left:74.4px;top:573.6px" width="8" height="8" viewBox="0 0 8 8"><circle cx="4" cy="4" r="3.2"/><path d="M2.3 4h3.4M4 2.3v3.4"/></svg>
<div class="bar" style="left:235.2px;top:608.1px;width:333.2px;height:6px;background:#88ab3e"><span class="sota">STATE OF THE ART</span></div>
<i class="gd dk" style="left:231.45px;top:618.06px"></i>
<i class="gd dk" style="left:233.55px;top:618.06px"></i>
<i class="gd" style="left:240.75px;top:618.06px"></i>
<i class="gd" style="left:245.75px;top:618.06px"></i>
<i class="gd" style="left:253.55px;top:618.06px"></i>
<i class="gd" style="left:265.65px;top:618.06px"></i>
<i class="gd" style="left:273.55px;top:618.06px"></i>
<i class="gd" style="left:277.85px;top:618.06px"></i>
<i class="gd" style="left:282.05px;top:618.06px"></i>
<i class="gd" style="left:286.35px;top:618.06px"></i>
<i class="gd" style="left:289.95px;top:618.06px"></i>
<i class="gd dk" style="left:322.05px;top:618.06px"></i>
<i class="gd" style="left:329.85px;top:618.06px"></i>
<i class="gd" style="left:334.15px;top:618.06px"></i>
<i class="gd dk" style="left:342.25px;top:618.06px"></i>
<i class="gd" style="left:346.55px;top:618.06px"></i>
<i class="gd dk" style="left:350.55px;top:618.06px"></i>
<i class="gd" style="left:358.45px;top:618.06px"></i>
<i class="gd" style="left:362.65px;top:618.06px"></i>
<i class="gd" style="left:366.95px;top:618.06px"></i>
<i class="gd" style="left:382.65px;top:618.06px"></i>
<i class="gd" style="left:386.95px;top:618.06px"></i>
<i class="gd" style="left:395.45px;top:618.06px"></i>
<i class="gd" style="left:395.25px;top:618.06px"></i>
<i class="gd dk" style="left:414.35px;top:618.06px"></i>
<i class="gd" style="left:429.95px;top:618.06px"></i>
<i class="gd" style="left:440.15px;top:618.06px"></i>
<i class="gd dk" style="left:445.55px;top:618.06px"></i>
<i class="gd" style="left:476.75px;top:618.06px"></i>
<i class="gd dk" style="left:492.75px;top:618.06px"></i>
<i class="gd" style="left:502.65px;top:618.06px"></i>
<i class="gd" style="left:507.95px;top:618.06px"></i>
<i class="gd dk" style="left:523.95px;top:618.06px"></i>
<i class="gd dk" style="left:534.15px;top:618.06px"></i>
<i class="gd" style="left:555.15px;top:618.06px"></i>
<i class="gd" style="left:571.85px;top:618.06px"></i>
<i class="cd" style="left:225.8px;top:616.7px;background:#3d5fba"></i>
<i class="cd" style="left:337.1px;top:616.7px;background:#c4442e"></i>
<i class="cd" style="left:511.9px;top:616.7px;background:#168a24"></i>
<i class="cd" style="left:564.4px;top:616.7px;background:#f09a2c"></i>
<i class="cd" style="left:565.4px;top:616.7px;background:#8a0c96"></i>
<div class="lbl" style="left:86.7px;top:602.2px"><div>Field Design &amp; Features</div><div class="sub">8 guidelines · Score: 77.2</div></div>
<svg class="ic" style="left:74.4px;top:607.2px" width="8" height="8" viewBox="0 0 8 8"><circle cx="4" cy="4" r="3.2"/><path d="M2.3 4h3.4M4 2.3v3.4"/></svg>
<div class="bar" style="left:234.4px;top:641.7px;width:1.8px;height:6px;background:#c46a7c"></div>
<i class="gd" style="left:221.45px;top:651.64px"></i>
<i class="gd" style="left:226.75px;top:651.64px"></i>
<i class="gd dk" style="left:231.45px;top:651.64px"></i>
<i class="gd dk" style="left:233.55px;top:651.64px"></i>
<i class="gd" style="left:266.65px;top:651.64px"></i>
<i class="gd" style="left:296.65px;top:651.64px"></i>
<i class="gd" style="left:314.15px;top:651.64px"></i>
<i class="gd" style="left:326.35px;top:651.64px"></i>
<i class="gd" style="left:337.75px;top:651.64px"></i>
<i class="gd" style="left:349.85px;top:651.64px"></i>
<i class="gd dk" style="left:367.65px;top:651.64px"></i>
<i class="gd" style="left:373.15px;top:651.64px"></i>
<i class="gd" style="left:390.55px;top:651.64px"></i>
<i class="gd" style="left:396.25px;top:651.64px"></i>
<i class="gd" style="left:396.75px;top:651.64px"></i>
<i class="gd" style="left:414.35px;top:651.64px"></i>
<i class="gd" style="left:419.95px;top:651.64px"></i>
<i class="gd" style="left:431.05px;top:651.64px"></i>
<i class="gd" style="left:436.85px;top:651.64px"></i>
<i class="gd" style="left:442.45px;top:651.64px"></i>
<i class="gd" style="left:459.55px;top:651.64px"></i>
<i class="gd" style="left:465.35px;top:651.64px"></i>
<i class="gd dk" style="left:487.85px;top:651.64px"></i>
<i class="gd dk" style="left:521.95px;top:651.64px"></i>
<i class="gd dk" style="left:568.05px;top:651.64px"></i>
<i class="cd" style="left:271.6px;top:650.2px;background:#c4442e"></i>
<i class="cd" style="left:503.0px;top:650.2px;background:#8a0c96"></i>
<i class="cd" style="left:554.1px;top:650.2px;background:#168a24"></i>
<i class="cd" style="left:568.4px;top:650.2px;background:#f09a2c"></i>
<div class="lbl" style="left:86.7px;top:635.8px"><div>Default Values &amp; Autocompletion</div><div class="sub">8 guidelines · Score: 2.9</div></div>
<svg class="ic" style="left:74.4px;top:640.8px" width="8" height="8" viewBox="0 0 8 8"><circle cx="4" cy="4" r="3.2"/><path d="M2.3 4h3.4M4 2.3v3.4"/></svg>
<i class="ld" style="left:154px;top:675px;background:#3d5fba"></i><div class="legend" style="left:163px">J.C. Penney</div>
<i class="ld" style="left:230px;top:675px;background:#c4442e"></i><div class="legend" style="left:239px">L.L. Bean</div>
<i class="ld" style="left:293px;top:675px;background:#f09a2c"></i><div class="legend" style="left:302.5px">Sears</div>
<i class="ld" style="left:339.5px;top:675px;background:#168a24"></i><div class="legend" style="left:348px">Marks &amp; Spencer</div>
<i class="ld" style="left:443px;top:675px;background:#8a0c96"></i><div class="legend" style="left:451.4px">Debenhams</div>
<i class="gd" style="left:245.2px;top:691px;width:3.2px;height:3.2px;background:#c8c8c8"></i><div class="legend" style="left:257.7px;top:686.4px;color:#8a8a8a"><u>60</u> top grossing e-commerce sites</div>
<div style="position:absolute;left:610px;top:671px;font-size:13px;color:#b0b0b0">18</div>
<div class="tl" style="left:673.3px;top:84.6px;letter-spacing:0.018px">John Lewis’ “Checkout” UX performance surpasses many of the top grossing e-commerce</div>
<div class="tl" style="left:673.3px;top:105.6px;letter-spacing:0.113px">stores that Baymard have benchmarked and is generally speaking a very strong</div>
<div class="tl" style="left:673.3px;top:126.6px;letter-spacing:0.131px">performance. With two state-of-the-art performances, in “Form and Page Design” and</div>
<div class="tl" style="left:673.3px;top:147.6px;letter-spacing:0.096px">“Field Design and Features”, and many other very good to great performance in other sub-</div>
<div class="tl" style="left:673.3px;top:168.6px;letter-spacing:0.128px">areas, there is little for John Lewis to be concerned about. That is not to say that the</div>
<div class="tl" style="left:673.3px;top:189.6px;letter-spacing:0.038px">performance is perfect, and revisiting the “Order Confirm and E-Mail”, “Default Values and</div>
<div class="tl" style="left:673.3px;top:210.6px;letter-spacing:0.017px">Autocompletion”, and “Gifting Flow and Features” sub-areas could really push John Lewis</div>
<div class="tl" style="left:673.3px;top:231.6px;letter-spacing:0.276px">over the top.</div>
<div class="tl" style="left:673.3px;top:262.7px;letter-spacing:0.044px">The “Order Confirmation and E-Mail” suffers from lack of information provided in the first</div>
<div class="tl" style="left:673.3px;top:283.7px;letter-spacing:0.162px">email. There are certain pieces of information that a user expects to find within these</div>
<div class="tl" style="left:673.3px;top:304.7px;letter-spacing:0.150px">emails, any information that is absent from that can harm the user’s experience. This is</div>
<div class="tl" style="left:673.3px;top:325.7px;letter-spacing:0.170px">particularly impactful for a user that does not create an account and so must rely on the</div>
<div class="tl" style="left:673.3px;top:346.7px;letter-spacing:0.055px">email as reference and proof of purchase. Whilst John Lewis sends two emails to confirm</div>
<div class="tl" style="left:673.3px;top:367.7px;letter-spacing:0.159px">order then provide order details, it’s the lack of information in the initial email that can be</div>
<div class="tl" style="left:673.3px;top:388.7px;letter-spacing:0.215px">detrimental to the user’s experience.</div>
<div class="tl" style="left:673.3px;top:419.7px;letter-spacing:0.125px">In terms of the “Default Values and Autocomplete” sub-area, the issue primarily surrounds</div>
<div class="tl" style="left:673.3px;top:440.7px;letter-spacing:0.163px">asking the user to repeat tasks, i.e. type information again that could have been taken from</div>
<div class="tl" style="left:673.3px;top:461.7px;letter-spacing:0.170px">a previous field in the checkout flow. Intelligently utilizing the information that the user</div>
<div class="tl" style="left:673.3px;top:482.7px;letter-spacing:0.144px">has already provided can save both time and effort on the user’s part.</div>
<div class="tl" style="left:673.3px;top:513.8px;letter-spacing:0.124px">The “Gifting Flow and Features” sub-area almost seems to be an afterthought in the</div>
<div class="tl" style="left:673.3px;top:534.8px;letter-spacing:0.140px">checkout process and may be unclear to the user. Ensuring that the user is clear what gifting</div>
<div class="tl" style="left:673.3px;top:555.8px;letter-spacing:0.174px">entails and if there are any subsequent costs for the service is important.</div>
<div class="tl" style="left:673.3px;top:586.8px;letter-spacing:0.040px">With an otherwise clear flow and full clarity of steps and checkout process, John Lewis’</div>
<div class="tl" style="left:673.3px;top:607.8px;letter-spacing:0.155px">overall performance is something to contend with.</div>
<div class="tl" style="left:656.3px;top:638.8px;letter-spacing:0.022px">You can also <u>skip</u> to the list of Checkout UX improvements.</div><svg style="position:absolute;left:0;top:0" width="1248" height="714" fill="#1a1a1a"><polygon points="656.9,88.00 661.4,91.70 656.9,95.40"/><polygon points="656.9,266.05 661.4,269.75 656.9,273.45"/><polygon points="656.9,423.10 661.4,426.80 656.9,430.50"/><polygon points="656.9,517.15 661.4,520.85 656.9,524.55"/><polygon points="656.9,590.20 661.4,593.90 656.9,597.60"/></svg>
</body></html>
